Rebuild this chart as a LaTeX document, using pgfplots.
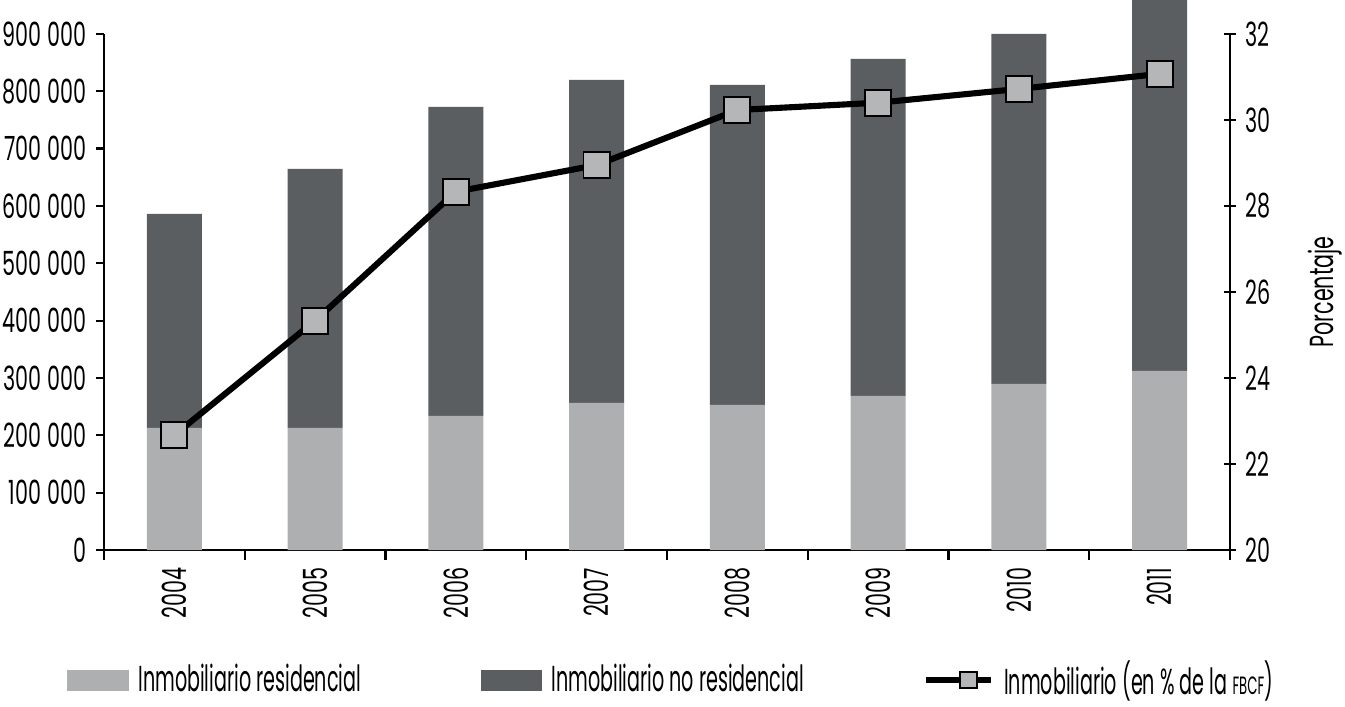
\documentclass[border=0pt]{standalone}
\usepackage{fontspec}
\setmainfont{Poppins}[FakeStretch=0.62]
\newfontfamily\legfont{Poppins}[FakeStretch=0.53]
\usepackage{pgfplots}
\pgfplotsset{compat=1.18}
\definecolor{resid}{HTML}{ADAFB0}
\definecolor{nores}{HTML}{5B5E61}
\definecolor{markfill}{HTML}{B5B6B7}
\newcommand\cf{\fontsize{12}{14}\selectfont}
\newcommand\lf{\legfont\fontsize{13}{15}\selectfont}

\begin{document}
\begin{tikzpicture}
\path[use as bounding box] (-37.4pt,-56.5pt) rectangle (446.8pt,198pt);
\begin{axis}[
  scale only axis, width=405.4pt, height=185.8pt,
  at={(0,0)}, anchor=south west,
  axis y line*=left, axis x line*=bottom,
  axis line style={line width=0.9pt},
  xmin=-0.5, xmax=7.5,
  ymin=0, ymax=900000,
  clip=false,
  scaled y ticks=false,
  ybar stacked, bar width=19.8pt,
  xtick={0,...,7},
  xticklabels={2004,2005,2006,2007,2008,2009,2010,2011},
  major x tick style={draw=none},
  minor xtick={-0.5,0.5,...,7.5},
  ytick={0,100000,...,900000},
  yticklabels={0,100 000,200 000,300 000,400 000,500 000,600 000,700 000,800 000,900 000},
  tick align=outside,
  major tick length=2.9pt, minor tick length=3.6pt,
  tick style={line width=0.8pt, black},
  tick label style={font=\cf},
  xticklabel style={rotate=90, anchor=east},
]
\addplot[fill=resid, draw=none] coordinates {
  (0,212800) (1,212800) (2,233700) (3,256400) (4,252900) (5,268600) (6,289500) (7,312200)};
\addplot[fill=nores, draw=none] coordinates {
  (0,373200) (1,451700) (2,539000) (3,563400) (4,558100) (5,587800) (6,610500) (7,648000)};
\end{axis}
\begin{axis}[
  scale only axis, width=405.4pt, height=185.8pt,
  at={(0,0)}, anchor=south west,
  axis y line*=right, axis x line=none,
  axis line style={line width=0.9pt},
  xmin=-0.5, xmax=7.5,
  ymin=20, ymax=32,
  ytick={20,22,...,32},
  tick align=center,
  major tick length=4pt,
  tick style={line width=0.8pt, black},
  tick label style={font=\cf},
  /pgf/number format/assume math mode=true,
  ylabel={Porcentaje}, ylabel style={font=\cf}, ylabel shift=6.5pt,
  legend columns=3,
  legend style={draw=none, inner sep=0pt, font=\lf,
    at={(axis description cs:-0.0328,-0.252)}, anchor=west,
    /tikz/every odd column/.append style={column sep=1.5pt},
    /tikz/every even column/.append style={column sep=41pt}},
  legend cell align=left,
]
\addlegendimage{legend image code/.code={\fill[resid] (0pt,-3.6pt) rectangle (21.6pt,3.6pt);}}
\addlegendentry{Inmobiliario residencial}
\addlegendimage{legend image code/.code={\fill[nores] (0pt,-3.6pt) rectangle (21.6pt,3.6pt);}}
\addlegendentry{Inmobiliario no residencial}
\addplot[black, line width=2.2pt, mark=square*,
  mark size=4.7pt, mark options={fill=markfill, draw=black, line width=0.7pt},
  legend image code/.code={
    \draw[black, line width=2.2pt] (0pt,0pt) -- (23.4pt,0pt);
    \node[draw=black, fill=markfill, line width=0.7pt, minimum size=6pt, inner sep=0pt] at (11.7pt,0pt) {};}
  ] coordinates {
  (0,22.67) (1,25.33) (2,28.33) (3,28.95) (4,30.23) (5,30.40) (6,30.72) (7,31.07)};
\addlegendentry{Inmobiliario (en \% de la {\fontsize{9}{10}\selectfont FBCF})}
\end{axis}
\end{tikzpicture}
\end{document}
